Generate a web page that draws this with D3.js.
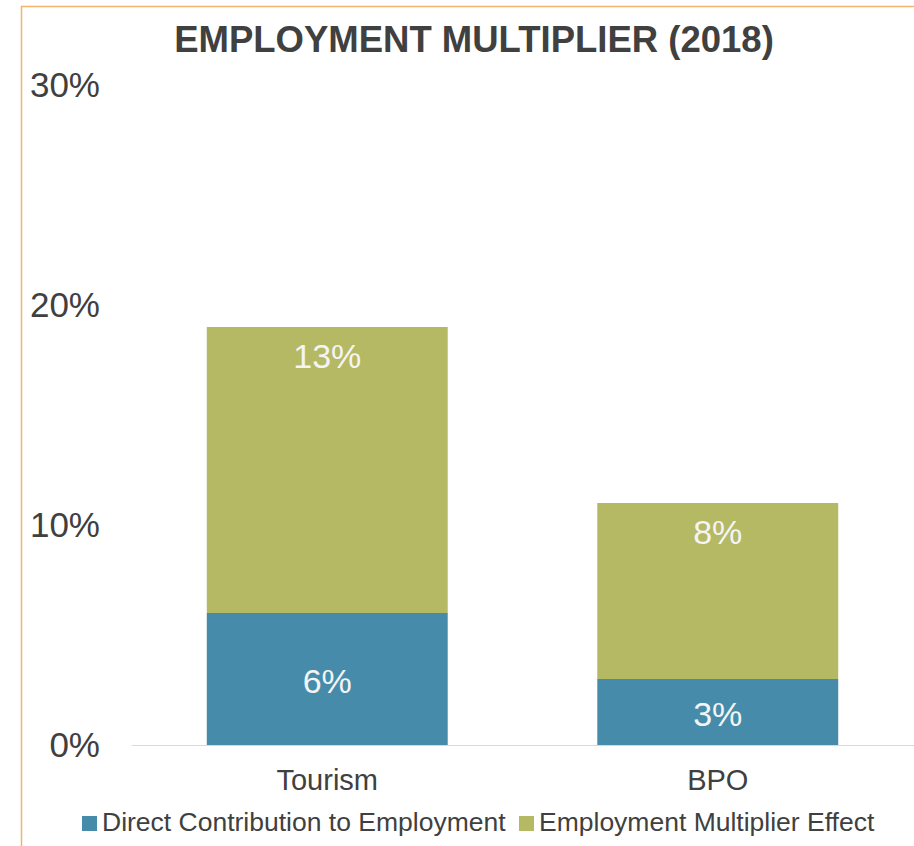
<!DOCTYPE html>
<html>
<head>
<meta charset="utf-8">
<script src="https://cdn.jsdelivr.net/npm/d3@7"></script>
<style>
	body { margin: 0; background: #fff; }
	text { font-family: "Liberation Sans", Arial, sans-serif; }
</style>
</head>
<body>
<div id="canvas"></div>
<script>
// Data
var categories = ['Tourism', 'BPO'],
	directValues = [6, 3],
	multiplierValues = [13, 8],
	seriesNames = ['Direct Contribution to Employment', 'Employment Multiplier Effect'],
	yTicks = [0, 10, 20, 30];

// UI
var width = 914,
	height = 846,
	textColor = '#404040',
	blueColor = '#468caa',
	greenColor = '#b5b964',
	borderColor = '#f2b36b';

var svg = d3.select('#canvas').append('svg')
	.attr('width', width)
	.attr('height', height);

// Frame (top and left edges)
svg.append('path')
	.attr('d', 'M21.5,' + height + 'V6.5H' + width)
	.attr('fill', 'none')
	.attr('stroke', borderColor)
	.attr('stroke-width', 1.5);

// Title
svg.append('text')
	.attr('x', 474)
	.attr('y', 52)
	.attr('text-anchor', 'middle')
	.attr('font-size', 36.5)
	.attr('font-weight', 'bold')
	.attr('fill', textColor)
	.text('EMPLOYMENT MULTIPLIER (2018)');

// Scales
var x = d3.scaleBand()
	.domain(categories)
	.range([132, 913])
	.paddingInner(0.383)
	.paddingOuter(0.1915);

var y = d3.scaleLinear()
	.domain([0, 30])
	.range([745, 85]);

// Y tick labels
svg.append('g').selectAll('text')
	.data(yTicks)
	.enter()
		.append('text')
		.attr('x', 100)
		.attr('y', function(d) { return y(d); })
		.attr('dy', '0.35em')
		.attr('text-anchor', 'end')
		.attr('font-size', 35)
		.attr('fill', textColor)
		.text(function(d) { return d + '%'; });

// Stacked data
var rows = categories.map(function(c, i) {
	return { category: c, direct: directValues[i], multiplier: multiplierValues[i] };
});
var stacked = d3.stack().keys(['direct', 'multiplier'])(rows);
var colors = [blueColor, greenColor];

var gBars = svg.append('g');
stacked.forEach(function(layer, li) {
	gBars.append('g').selectAll('rect')
		.data(layer)
		.enter()
			.append('rect')
			.attr('x', function(d) { return x(d.data.category); })
			.attr('y', function(d) { return y(d[1]); })
			.attr('width', x.bandwidth())
			.attr('height', function(d) { return y(d[0]) - y(d[1]); })
			.attr('fill', colors[li]);
});

// Baseline
svg.append('line')
	.attr('x1', 132)
	.attr('x2', width)
	.attr('y1', y(0) + 0.5)
	.attr('y2', y(0) + 0.5)
	.attr('stroke', '#d9d9d9')
	.attr('stroke-width', 1);

// Value labels
stacked.forEach(function(layer, li) {
	svg.append('g').selectAll('text')
		.data(layer)
		.enter()
			.append('text')
			.attr('x', function(d) { return x(d.data.category) + x.bandwidth() / 2; })
			.attr('y', function(d) {
				// green labels sit near the top, blue ones in the middle
				return li === 1 ? y(d[1]) + 41 : (y(d[0]) + y(d[1])) / 2 + 14;
			})
			.attr('text-anchor', 'middle')
			.attr('font-size', 34)
			.attr('fill', '#f4f4f4')
			.text(function(d) { return (d[1] - d[0]) + '%'; });
});

// Category labels
svg.append('g').selectAll('text')
	.data(categories)
	.enter()
		.append('text')
		.attr('x', function(d) { return x(d) + x.bandwidth() / 2; })
		.attr('y', 790)
		.attr('text-anchor', 'middle')
		.attr('font-size', 29)
		.attr('fill', textColor)
		.text(function(d) { return d; });

// Legend
var legendX = [82, 519];
var gLegend = svg.append('g');
seriesNames.forEach(function(name, i) {
	gLegend.append('rect')
		.attr('x', legendX[i])
		.attr('y', 816)
		.attr('width', 15)
		.attr('height', 15)
		.attr('fill', colors[i]);
	gLegend.append('text')
		.attr('x', legendX[i] + 20)
		.attr('y', 831)
		.attr('font-size', 26.5)
		.attr('fill', textColor)
		.text(name);
});
</script>
</body>
</html>
